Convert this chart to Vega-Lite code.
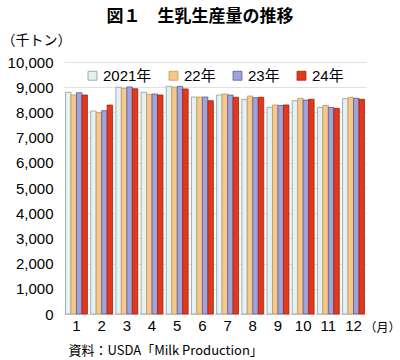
{
  "$schema": "https://vega.github.io/schema/vega-lite/v6.json",
  "width": 302,
  "height": 252,
  "autosize": "none",
  "padding": {"left": 64, "top": 62, "right": 34, "bottom": 46},
  "background": "white",
  "title": {
    "text": "図１　生乳生産量の推移",
    "font": "Noto Sans CJK JP",
    "fontSize": 17,
    "fontWeight": "bold",
    "color": "#000000",
    "anchor": "middle",
    "dx": -15,
    "offset": 7
  },
  "config": {
    "view": {"stroke": null},
    "axis": {"labelFont": "Liberation Sans", "labelColor": "#000000", "titleFont": "Noto Sans CJK JP", "titleColor": "#000000", "titleFontWeight": "normal"}
  },
  "data": {
    "values": [
      {"month": 1, "year": "2021年", "value": 8800},
      {"month": 1, "year": "22年", "value": 8690},
      {"month": 1, "year": "23年", "value": 8780},
      {"month": 1, "year": "24年", "value": 8690},
      {"month": 2, "year": "2021年", "value": 8055},
      {"month": 2, "year": "22年", "value": 7990},
      {"month": 2, "year": "23年", "value": 8070},
      {"month": 2, "year": "24年", "value": 8290},
      {"month": 3, "year": "2021年", "value": 9000},
      {"month": 3, "year": "22年", "value": 8955},
      {"month": 3, "year": "23年", "value": 9010},
      {"month": 3, "year": "24年", "value": 8940},
      {"month": 4, "year": "2021年", "value": 8800},
      {"month": 4, "year": "22年", "value": 8720},
      {"month": 4, "year": "23年", "value": 8730},
      {"month": 4, "year": "24年", "value": 8690},
      {"month": 5, "year": "2021年", "value": 9035},
      {"month": 5, "year": "22年", "value": 9000},
      {"month": 5, "year": "23年", "value": 9035},
      {"month": 5, "year": "24年", "value": 8930},
      {"month": 6, "year": "2021年", "value": 8610},
      {"month": 6, "year": "22年", "value": 8610},
      {"month": 6, "year": "23年", "value": 8610},
      {"month": 6, "year": "24年", "value": 8465},
      {"month": 7, "year": "2021年", "value": 8690},
      {"month": 7, "year": "22年", "value": 8730},
      {"month": 7, "year": "23年", "value": 8690},
      {"month": 7, "year": "24年", "value": 8600},
      {"month": 8, "year": "2021年", "value": 8520},
      {"month": 8, "year": "22年", "value": 8650},
      {"month": 8, "year": "23年", "value": 8585},
      {"month": 8, "year": "24年", "value": 8600},
      {"month": 9, "year": "2021年", "value": 8200},
      {"month": 9, "year": "22年", "value": 8295},
      {"month": 9, "year": "23年", "value": 8280},
      {"month": 9, "year": "24年", "value": 8295},
      {"month": 10, "year": "2021年", "value": 8465},
      {"month": 10, "year": "22年", "value": 8560},
      {"month": 10, "year": "23年", "value": 8490},
      {"month": 10, "year": "24年", "value": 8520},
      {"month": 11, "year": "2021年", "value": 8200},
      {"month": 11, "year": "22年", "value": 8280},
      {"month": 11, "year": "23年", "value": 8200},
      {"month": 11, "year": "24年", "value": 8160},
      {"month": 12, "year": "2021年", "value": 8545},
      {"month": 12, "year": "22年", "value": 8600},
      {"month": 12, "year": "23年", "value": 8560},
      {"month": 12, "year": "24年", "value": 8520}
    ]
  },
  "layer": [
    {
      "mark": {"type": "bar", "strokeWidth": 0.8},
      "encoding": {
        "x": {
          "field": "month",
          "type": "ordinal",
          "scale": {"paddingInner": 0.13, "paddingOuter": 0.06},
          "axis": {
            "labelAngle": 0,
            "labelFontSize": 15,
            "labelPadding": 4,
            "ticks": false,
            "domain": true,
            "domainColor": "#d9d9d9",
            "title": "（月）",
            "titleFontSize": 12,
            "titleX": 318,
            "titleY": 13,
            "titleAlign": "center",
            "titleBaseline": "middle"
          }
        },
        "xOffset": {"field": "year", "type": "nominal", "sort": ["2021年", "22年", "23年", "24年"], "scale": {"paddingInner": 0, "paddingOuter": 0}},
        "y": {
          "field": "value",
          "type": "quantitative",
          "scale": {"domain": [0, 10000]},
          "axis": {
            "values": [0, 1000, 2000, 3000, 4000, 5000, 6000, 7000, 8000, 9000, 10000],
            "format": ",.0f",
            "labelFontSize": 15,
            "labelPadding": 11,
            "ticks": false,
            "domain": false,
            "gridColor": "#e0e0e0",
            "title": "（千トン）",
            "titleFontSize": 14,
            "titleAngle": 0,
            "titleX": -63,
            "titleY": -22,
            "titleAlign": "left",
            "titleBaseline": "middle"
          }
        },
        "fill": {
          "field": "year",
          "type": "nominal",
          "title": null,
          "sort": ["2021年", "22年", "23年", "24年"],
          "scale": {"domain": ["2021年", "22年", "23年", "24年"], "range": ["#e6f1f1", "#f6c98b", "#a3a3dc", "#e2391d"]},
          "legend": {
            "orient": "none",
            "direction": "horizontal",
            "legendX": 21,
            "legendY": 6,
            "symbolType": "square",
            "symbolSize": 80,
            "symbolStrokeWidth": 0.8,
            "labelFont": "Liberation Sans, Noto Sans CJK JP",
            "labelFontSize": 15,
            "labelColor": "#000000",
            "labelOffset": 3,
            "columnPadding": 14
          }
        },
        "stroke": {
          "field": "year",
          "type": "nominal",
          "title": null,
          "sort": ["2021年", "22年", "23年", "24年"],
          "scale": {"domain": ["2021年", "22年", "23年", "24年"], "range": ["#8c9c9c", "#c09a5a", "#5a5a9a", "#9a2412"]}
        }
      }
    },
    {
      "mark": {"type": "rule", "opacity": 0},
      "encoding": {
        "y": {
          "datum": 0,
          "type": "quantitative",
          "scale": {"domain": [0, 1]},
          "axis": {
            "orient": "right",
            "labels": false,
            "ticks": false,
            "domain": false,
            "grid": false,
            "title": "資料：USDA「Milk Production」",
            "titleFont": "Noto Sans CJK JP",
            "titleFontSize": 13,
            "titleAngle": 0,
            "titleX": -298,
            "titleY": 288,
            "titleAlign": "left",
            "titleBaseline": "middle"
          }
        }
      }
    }
  ],
  "resolve": {"scale": {"y": "independent"}}
}
